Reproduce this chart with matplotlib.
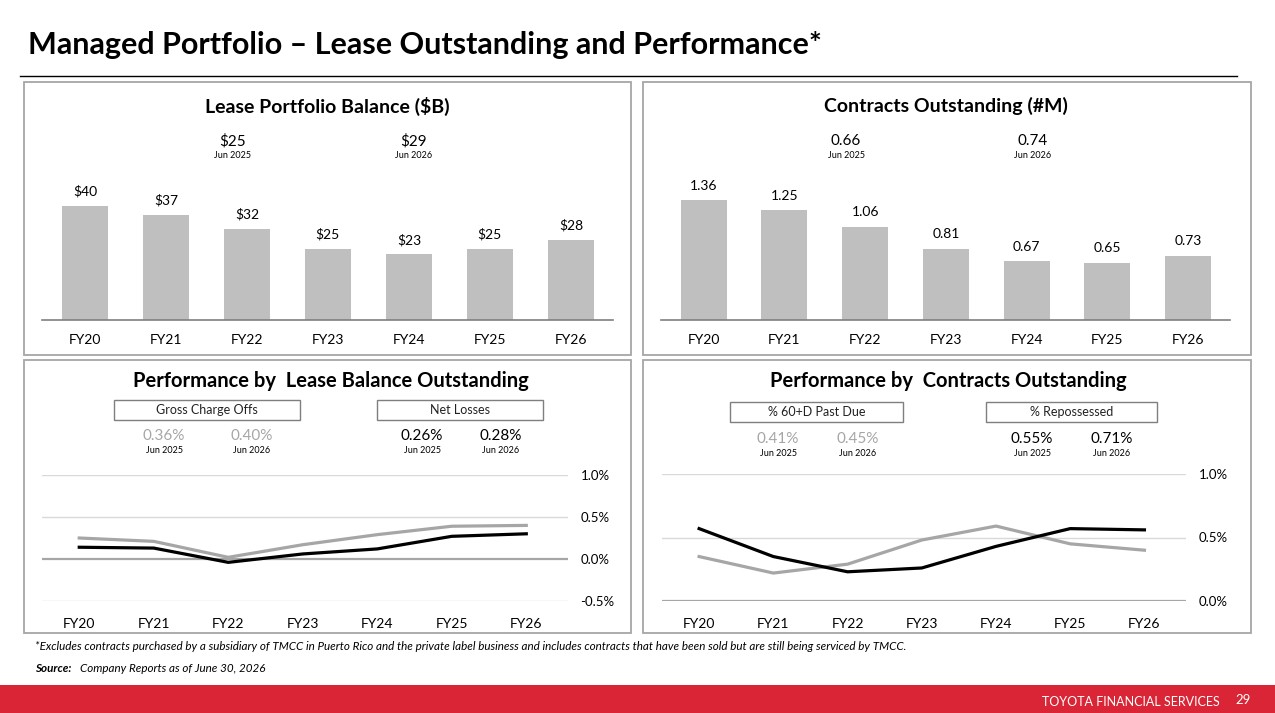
import matplotlib.pyplot as plt
from matplotlib.patches import Rectangle
from matplotlib.lines import Line2D

plt.rcParams['font.family'] = ['Lato', 'DejaVu Sans']

W, H = 1275, 713

fiscal_years = ["FY20", "FY21", "FY22", "FY23", "FY24", "FY25", "FY26"]
lease_balance = [40, 37, 32, 25, 23, 25, 28]
contracts_outstanding = [1.36, 1.25, 1.06, 0.81, 0.67, 0.65, 0.73]
gross_charge_offs = [0.25, 0.21, 0.02, 0.17, 0.29, 0.39, 0.40]
net_losses = [0.14, 0.13, -0.04, 0.06, 0.12, 0.27, 0.30]
past_due_60 = [0.35, 0.22, 0.29, 0.48, 0.59, 0.45, 0.40]
repossessed = [0.57, 0.35, 0.23, 0.26, 0.43, 0.57, 0.56]

jun_labels = ["Jun 2025", "Jun 2026"]
lease_jun = ["$25", "$29"]
contracts_jun = ["0.66", "0.74"]
gco_jun = ["0.36%", "0.40%"]
nl_jun = ["0.26%", "0.28%"]
pd_jun = ["0.41%", "0.45%"]
rep_jun = ["0.55%", "0.71%"]

BAR = "#BFBFBF"
GRAY = "#A6A6A6"
RED = "#D92535"

fig = plt.figure(figsize=(W / 100, H / 100), dpi=100)


def fx(x):
    return x / W


def fy(y):
    return 1 - y / H


def axes_px(x0, y0, x1, y1):
    # pixel box (top-left origin) -> figure axes
    return fig.add_axes([fx(x0), fy(y1), (x1 - x0) / W, (y1 - y0) / H])


def ftext(x, y, s, **kw):
    kw.setdefault("ha", "center")
    kw.setdefault("va", "center")
    fig.text(fx(x), fy(y), s, **kw)


def panel(x0, y0, x1, y1):
    fig.patches.append(Rectangle((fx(x0), fy(y1)), (x1 - x0) / W, (y1 - y0) / H,
                                 transform=fig.transFigure, fill=False,
                                 edgecolor=GRAY, lw=1.3))


def label_box(x0, x1, y0, y1, s):
    fig.patches.append(Rectangle((fx(x0), fy(y1)), (x1 - x0) / W, (y1 - y0) / H,
                                 transform=fig.transFigure, facecolor="white",
                                 edgecolor="#7F7F7F", lw=1.0))
    ftext((x0 + x1) / 2, (y0 + y1) / 2, s, fontsize=9, color="#222222")


# title and rule
ftext(28, 45, "Managed Portfolio \u2013 Lease Outstanding and Performance*",
      ha="left", fontsize=22, fontweight="bold")
fig.add_artist(Line2D([fx(20), fx(1237)], [fy(76), fy(76)], color="black", lw=1.0))

for box in [(24, 82, 631, 355), (643, 82, 1251, 355),
            (24, 360, 631, 633), (643, 360, 1251, 633)]:
    panel(*box)

x = list(range(len(fiscal_years)))


def bar_panel(ax_box, values, fmt, ymax, title, title_x, heads, head_xs):
    ax = axes_px(*ax_box)
    ax.bar(x, values, width=0.57, color=BAR)
    for xi, v in zip(x, values):
        ax.annotate(fmt(v), (xi, v), xytext=(0, 6), textcoords="offset points",
                    ha="center", va="bottom", fontsize=10)
    ax.set_xlim(-0.53, 6.52)
    ax.set_ylim(0, ymax)
    ax.set_yticks([])
    ax.set_xticks(x)
    ax.set_xticklabels(fiscal_years, fontsize=10)
    ax.tick_params(axis="x", length=0, pad=10)
    for s in ["top", "right", "left"]:
        ax.spines[s].set_visible(False)
    ax.spines["bottom"].set_color("#7F7F7F")
    ax.spines["bottom"].set_linewidth(1.2)
    ax.patch.set_alpha(0)
    ftext(title_x, 106, title, fontsize=14, fontweight="bold")
    for hx, hv, jl in zip(head_xs, heads, jun_labels):
        ftext(hx, 141, hv, fontsize=11)
        ftext(hx, 156, jl, fontsize=6.5)
    return ax


bar_panel((42, 170, 613, 320), lease_balance, lambda v: f"${v:.0f}", 150 / 2.85,
          "Lease Portfolio Balance ($B)", 327, lease_jun, [233, 414])
bar_panel((661, 170, 1230, 320), contracts_outstanding, lambda v: f"{v:.2f}", 150 / 88,
          "Contracts Outstanding (#M)", 946, contracts_jun, [846, 1033])


def line_panel(ax_box, series_gray, series_black, ylim, yticks, zero):
    ax = axes_px(*ax_box)
    for t in yticks:
        ax.axhline(t, color=GRAY if t == zero else "#D9D9D9",
                   lw=1.6 if t == zero else 1.0, zorder=1)
    ax.plot(x, series_gray, color=GRAY, lw=2.3, zorder=3)
    ax.plot(x, series_black, color="black", lw=2.3, zorder=4)
    ax.set_xlim(-0.5, 6.56)
    ax.set_ylim(*ylim)
    ax.set_yticks(yticks)
    ax.set_yticklabels([f"{t:.1f}%" for t in yticks], fontsize=9.5)
    ax.yaxis.tick_right()
    ax.tick_params(axis="y", length=0, pad=9)
    ax.set_xticks(x)
    ax.set_xticklabels(fiscal_years, fontsize=10)
    ax.tick_params(axis="x", length=0, pad=12)
    for s in ax.spines.values():
        s.set_visible(False)
    ax.patch.set_alpha(0)
    return ax


line_panel((42, 475, 568, 601), gross_charge_offs, net_losses, (-0.5, 1.0),
           [-0.5, 0.0, 0.5, 1.0], 0.0)
line_panel((662, 474, 1186, 601), past_due_60, repossessed, (0.0, 1.0),
           [0.0, 0.5, 1.0], 0.0)

ftext(331, 381, "Performance by  Lease Balance Outstanding", fontsize=14.5, fontweight="bold")
ftext(948, 381, "Performance by  Contracts Outstanding", fontsize=14.5, fontweight="bold")

label_box(114, 300, 400, 420, "Gross Charge Offs")
label_box(377, 543, 400, 420, "Net Losses")
label_box(730, 903, 402, 422, "% 60+D Past Due")
label_box(986, 1157, 402, 422, "% Repossessed")


def heads(values, xs, color, y):
    for hx, hv, jl in zip(xs, values, jun_labels):
        ftext(hx, y, hv, fontsize=11, color=color)
        ftext(hx, y + 15, jl, fontsize=6.5)


heads(gco_jun, [164, 252], GRAY, 436)
heads(nl_jun, [422, 501], "black", 436)
heads(pd_jun, [778, 858], GRAY, 439)
heads(rep_jun, [1032, 1112], "black", 439)

# footnotes
ftext(35, 646, "*Excludes contracts purchased by a subsidiary of TMCC in Puerto Rico and the private "
      "label business and includes contracts that have been sold but are still being serviced by TMCC.",
      ha="left", fontsize=8.4, style="italic")
fig.text(fx(35), fy(669), "Source:", ha="left", va="center", fontsize=8.4,
         style="italic", fontweight="bold")
ftext(80, 669, "Company Reports as of June 30, 2026", ha="left", fontsize=8.4, style="italic")

# red footer band
fig.patches.append(Rectangle((0, 0), 1, 28 / H, transform=fig.transFigure,
                             facecolor=RED, edgecolor="none"))
ftext(1220, 702, "TOYOTA FINANCIAL SERVICES", ha="right", fontsize=9, color="white")
ftext(1243, 700, "29", fontsize=9.5, color="white")

fig.savefig("out.png", dpi=100)
